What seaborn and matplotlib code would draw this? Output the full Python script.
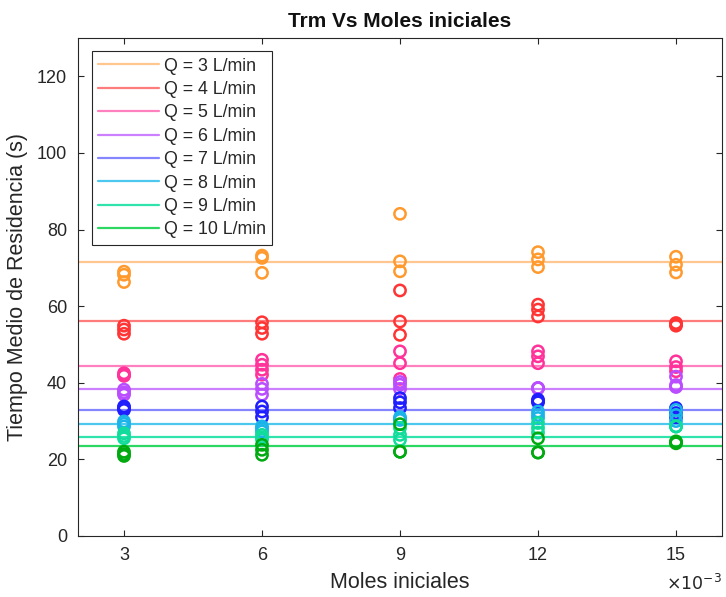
import matplotlib
matplotlib.use("Agg")
import matplotlib.pyplot as plt
import seaborn as sns
import pandas as pd

# ---- data ----
moles = [3, 6, 9, 12, 15]  # x 10^-3
flow_labels = ["Q = 3 L/min", "Q = 4 L/min", "Q = 5 L/min", "Q = 6 L/min",
               "Q = 7 L/min", "Q = 8 L/min", "Q = 9 L/min", "Q = 10 L/min"]
mean_trm = [71.6, 56.0, 44.5, 38.3, 32.8, 29.2, 25.9, 23.5]

trm_q3 = [[69.0, 68.2, 66.3], [73.2, 72.6, 68.7], [84.1, 71.7, 69.1], [74.1, 72.2, 70.2], [72.9, 70.8, 68.8]]
trm_q4 = [[54.9, 53.9, 52.8], [55.8, 54.3, 52.8], [64.1, 56.0, 52.5], [60.4, 59.1, 57.3], [55.6, 54.9, 55.2]]
trm_q5 = [[42.5, 42.0, 41.8], [46.0, 44.7, 43.4, 42.1], [48.2, 45.1, 41.0], [48.2, 46.9, 45.1], [45.6, 44.1, 43.0]]
trm_q6 = [[38.2, 37.5, 36.9], [39.7, 38.4, 36.9], [40.2, 39.5, 38.4], [38.6, 38.6, 38.6], [41.6, 38.9, 39.4]]
trm_q7 = [[33.8, 32.9, 33.4], [33.8, 32.5, 31.0], [36.0, 34.9, 33.4], [35.6, 34.9, 35.2], [33.4, 32.1, 31.0]]
trm_q8 = [[29.9, 28.6, 29.3], [28.6, 27.3, 28.0], [31.0, 30.3, 30.6], [32.5, 30.8, 31.6], [32.9, 31.6, 30.0]]
trm_q9 = [[26.8, 25.5, 26.1], [26.4, 25.8, 25.2], [28.2, 26.4, 25.1], [29.5, 28.2, 27.0], [28.6, 28.6, 28.6]]
trm_q10 = [[22.0, 20.9, 21.4], [23.8, 22.5, 21.2], [29.2, 22.0, 22.0], [25.5, 21.8, 21.8], [24.7, 24.2, 24.4]]
all_trm = [trm_q3, trm_q4, trm_q5, trm_q6, trm_q7, trm_q8, trm_q9, trm_q10]

point_colors = ["#FF9A2E", "#FF3535", "#FF3399", "#B94DFF", "#1E1EFF", "#1AB4E8", "#12DC9C", "#00AA10"]
line_colors = ["#FFC690", "#FF7C7C", "#FF80BF", "#CC80FF", "#8585FF", "#4CC8EE", "#2EE3AC", "#2DD862"]

rows = []
for lab, series in zip(flow_labels, all_trm):
    for m, vals in zip(moles, series):
        for v in vals:
            rows.append({"Moles": m, "Trm": v, "Q": lab})
df = pd.DataFrame(rows)

# ---- style ----
sns.set_style("ticks")
plt.rcParams["font.family"] = ["Liberation Sans", "DejaVu Sans"]

fig = plt.figure(figsize=(7.26, 5.97), dpi=100)
ax = fig.add_axes([78 / 726, 1 - 536 / 597, (722 - 78) / 726, (536 - 38) / 597])

for lab, mval, lc in zip(flow_labels, mean_trm, line_colors):
    ax.axhline(mval, color=lc, lw=1.6, label=lab, zorder=1)

for lab, pc in zip(flow_labels, point_colors):
    sub = df[df["Q"] == lab]
    sns.scatterplot(data=sub, x="Moles", y="Trm", ax=ax, marker="o", s=66,
                    facecolors="none", edgecolor=pc, linewidth=1.8,
                    legend=False, zorder=3)

ax.set_xlim(2, 16)
ax.set_ylim(0, 130)
ax.set_xticks(moles)
ax.set_xticklabels([str(m) for m in moles])
ax.set_yticks([0, 20, 40, 60, 80, 100, 120])
ax.tick_params(direction="in", top=True, right=True, length=4, width=0.8,
               colors="#262626", labelsize=13, labelcolor="#262626", pad=8)
for sp in ax.spines.values():
    sp.set_visible(True)
    sp.set_color("#262626")
    sp.set_linewidth(0.8)

ax.set_xlabel("Moles iniciales", fontsize=15.5, color="#262626", labelpad=6)
ax.set_ylabel("Tiempo Medio de Residencia (s)", fontsize=15.5, color="#262626", labelpad=6)
ax.set_title("Trm Vs Moles iniciales", fontsize=15, fontweight="bold", color="#111111", pad=8)
ax.text(1.0, -0.075, r"$\times10^{-3}$", transform=ax.transAxes, ha="right", va="top",
        fontsize=12.5, color="#262626")

leg = ax.legend(loc="upper left", bbox_to_anchor=(0.022, 0.973), fontsize=12.8,
                frameon=True, fancybox=False, edgecolor="#262626", framealpha=1,
                handlelength=3.4, labelspacing=0.36, borderpad=0.35, handletextpad=0.3,
                borderaxespad=0)
leg.get_frame().set_linewidth(0.8)

fig.savefig("out.png", dpi=100)
